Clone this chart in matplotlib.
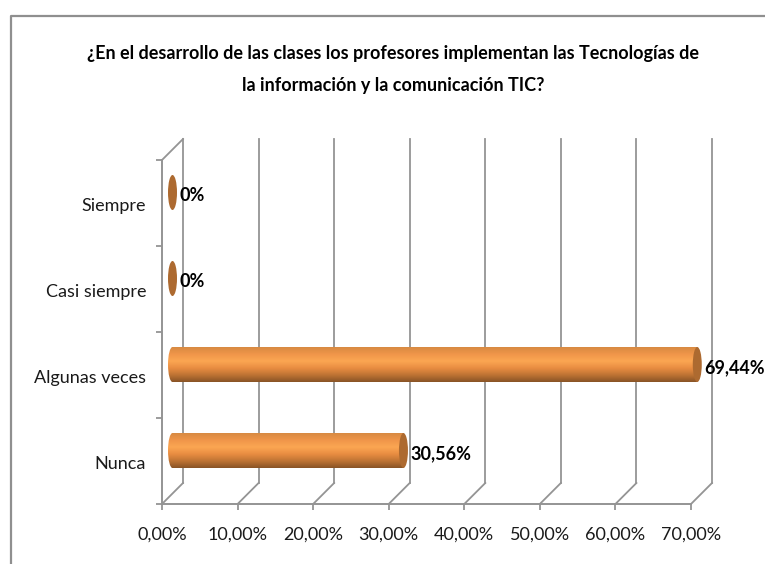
#!/usr/bin/env python
# -- coding: utf-8 --
import numpy as np
import matplotlib
matplotlib.use('Agg')
import matplotlib.pyplot as plt
from matplotlib.colors import LinearSegmentedColormap
from matplotlib.lines import Line2D
from matplotlib.patches import Ellipse, PathPatch
from matplotlib.path import Path

categories = ['Nunca', 'Algunas veces', 'Casi siempre', 'Siempre']
values = [30.56, 69.44, 0, 0]
value_labels = ['30,56%', '69,44%', '0%', '0%']
x_ticks = [0, 10, 20, 30, 40, 50, 60, 70]
x_tick_labels = ['0,00%', '10,00%', '20,00%', '30,00%', '40,00%', '50,00%', '60,00%', '70,00%']
title = '¿En el desarrollo de las clases los profesores implementan las Tecnologías de\nla información y la comunicación TIC?'

plt.rcParams['font.family'] = ['Lato', 'DejaVu Sans']

W, H = 765, 564
fig = plt.figure(figsize=(W / 100, H / 100), dpi=100)
grey = '#949494'

# marco del grafico: solo arriba e izquierda
fig.add_artist(Line2D([1, 10.5 / W, 10.5 / W], [1 - 15.5 / H, 1 - 15.5 / H, 0], transform=fig.transFigure,
                      color='#8f8f8f', lw=1.6))

# ejes: 0-70 va de x=162 a x=691, categorias de y=504 a y=160
ax = fig.add_axes([162 / W, 1 - 504 / H, 529 / W, 344 / H])
ax.set_xlim(0, 70)
ax.set_ylim(0, 4)
ax.patch.set_visible(False)
for s in ['top', 'right']:
    ax.spines[s].set_visible(False)
for s in ['left', 'bottom']:
    ax.spines[s].set_color(grey)
    ax.spines[s].set_linewidth(1.4)

# profundidad 3D en unidades de datos
dx = 21 / (529 / 70)
dy = 21 / (344 / 4)
for t in x_ticks:
    ax.plot([t, t + dx], [0, dy], color=grey, lw=1.3, clip_on=False, zorder=1)
    ax.plot([t + dx, t + dx], [dy, 4 + dy], color=grey, lw=1.3, clip_on=False, zorder=1)
ax.plot([0, dx], [4, 4 + dy], color=grey, lw=1.3, clip_on=False, zorder=1)

ax.set_xticks(x_ticks)
ax.set_xticklabels(x_tick_labels, fontsize=13, color='#1a1a1a')
ax.set_yticks(range(5))
ax.set_yticklabels([])
ax.tick_params(axis='both', length=4.5, width=1.3, color=grey)
ax.tick_params(axis='x', pad=12)
for i, c in enumerate(categories):
    ax.annotate(c, (0, i + 0.5), xytext=(-16, -3), textcoords='offset pixels', ha='right', va='center',
                fontsize=13, color='#1a1a1a', annotation_clip=False)

# barras cilindricas
cmap = LinearSegmentedColormap.from_list('bar', ['#8a5426', '#bf7434', '#e98d42', '#fba652', '#f0964a', '#d88a42'])
grad = np.linspace(0, 1, 64).reshape(-1, 1)
cap = 4.5 / (529 / 70)
bar_h = 35 / (344 / 4)
for i, (c, v, lab) in enumerate(zip(categories, values, value_labels)):
    x0 = dx / 2
    y0 = i + 0.5 + dy / 2
    x1 = x0 + v
    if v > 0:
        im = ax.imshow(grad, extent=[x0 - cap, x1, y0 - bar_h / 2, y0 + bar_h / 2], origin='lower', cmap=cmap,
                       aspect='auto', zorder=3)
        k = 0.5523
        yb, yt = y0 - bar_h / 2, y0 + bar_h / 2
        verts = [(x1, yb), (x1, yt), (x0, yt),
                 (x0 - k * cap, yt), (x0 - cap, y0 + k * bar_h / 2), (x0 - cap, y0),
                 (x0 - cap, y0 - k * bar_h / 2), (x0 - k * cap, yb), (x0, yb),
                 (x1, yb)]
        codes = [Path.MOVETO, Path.LINETO, Path.LINETO] + [Path.CURVE4] * 6 + [Path.CLOSEPOLY]
        clip = PathPatch(Path(verts, codes), transform=ax.transData, facecolor='none', edgecolor='none')
        ax.add_patch(clip)
        im.set_clip_path(clip)
        # la barra de 69,44 pasa del limite de los ejes por la profundidad
        im.set_clip_box(fig.bbox)
    ax.add_patch(Ellipse((x1, y0), 2 * cap, bar_h, facecolor='#ad6a30', edgecolor='none', zorder=4, clip_on=False))
    ax.annotate(lab, (x1, y0), xytext=(7, -3), textcoords='offset pixels', ha='left', va='center',
                fontsize=13, fontweight='bold', color='black', zorder=5, annotation_clip=False)

ax.set_xlim(0, 70)
ax.set_ylim(0, 4)

fig.text(393 / W, 1 - 69.5 / H, title, ha='center', va='center', fontsize=13, fontweight='bold',
         color='black', linespacing=2.05)

fig.savefig('out.png', dpi=100)
